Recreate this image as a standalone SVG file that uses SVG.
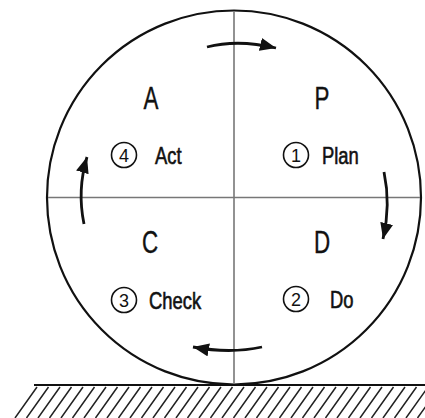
<svg xmlns="http://www.w3.org/2000/svg" width="425" height="418" viewBox="0 0 425 418">
<style>
.big{font-family:"Liberation Sans",Arial,sans-serif;font-size:32px;fill:#111;stroke:#111;stroke-width:0.4;text-anchor:middle}
.lbl{font-family:"Liberation Sans",Arial,sans-serif;font-size:23px;fill:#111;stroke:#111;stroke-width:0.6}
.num{font-family:"Liberation Sans",Arial,sans-serif;font-size:18px;fill:#111;text-anchor:middle}
.ring{fill:none;stroke:#111;stroke-width:1.6}
.axis{stroke:#777;stroke-width:1.6;fill:none}
.arr{fill:none;stroke:#111;stroke-width:2.8;marker-end:url(#ah)}
</style>
<defs>
<marker id="ah" markerUnits="userSpaceOnUse" markerWidth="17" markerHeight="14" refX="16" refY="6.5" orient="auto">
<path d="M0,0 L16,6.5 L0,13 Z" fill="#111"/>
</marker>
</defs>
<g id="ground">
<line x1="34" y1="385" x2="425" y2="385" stroke="#111" stroke-width="2.2"/>
<path stroke="#222" stroke-width="1.5" d="M15 418l22 -31M26.5 418l22 -31M38 418l22 -31M49.5 418l22 -31M61 418l22 -31M72.5 418l22 -31M84 418l22 -31M95.5 418l22 -31M107 418l22 -31M118.5 418l22 -31M130 418l22 -31M141.5 418l22 -31M153 418l22 -31M164.5 418l22 -31M176 418l22 -31M187.5 418l22 -31M199 418l22 -31M210.5 418l22 -31M222 418l22 -31M233.5 418l22 -31M245 418l22 -31M256.5 418l22 -31M268 418l22 -31M279.5 418l22 -31M291 418l22 -31M302.5 418l22 -31M314 418l22 -31M325.5 418l22 -31M337 418l22 -31M348.5 418l22 -31M360 418l22 -31M371.5 418l22 -31M383 418l22 -31M394.5 418l22 -31M406 418l22 -31M417.5 418l22 -31"/>
</g>
<g id="wheel">
<circle cx="234" cy="197.5" r="187" fill="none" stroke="#111" stroke-width="2.2"/>
<line class="axis" x1="234" y1="11" x2="234" y2="384"/>
<line class="axis" x1="48" y1="197.5" x2="420" y2="197.5"/>
</g>
<g id="connectors">
<path class="arr" d="M207,47 Q238,39 276,48"/>
<path class="arr" d="M384,172 Q391,205 383,239"/>
<path class="arr" d="M262,347 Q230,354 193,347"/>
<path class="arr" d="M84,224 Q77,190 87,157"/>
</g>
<g id="node-A">
<text class="big" transform="translate(151,109) scale(0.7,1)">A</text>
<circle class="ring" cx="124" cy="155" r="12.5"/>
<text class="num" x="124" y="161.5">4</text>
<text class="lbl" transform="translate(155,164) scale(0.8,1)">Act</text>
</g>
<g id="node-P">
<text class="big" transform="translate(322,109) scale(0.7,1)">P</text>
<circle class="ring" cx="296" cy="155" r="12.5"/>
<text class="num" x="296" y="161.5">1</text>
<text class="lbl" transform="translate(322,164) scale(0.8,1)">Plan</text>
</g>
<g id="node-C">
<text class="big" transform="translate(150,253) scale(0.7,1)">C</text>
<circle class="ring" cx="124" cy="300" r="12.5"/>
<text class="num" x="124" y="306.5">3</text>
<text class="lbl" transform="translate(149,309) scale(0.8,1)">Check</text>
</g>
<g id="node-D">
<text class="big" transform="translate(322,253) scale(0.7,1)">D</text>
<circle class="ring" cx="296" cy="299" r="12.5"/>
<text class="num" x="296" y="305.5">2</text>
<text class="lbl" transform="translate(330,308) scale(0.8,1)">Do</text>
</g>
</svg>
